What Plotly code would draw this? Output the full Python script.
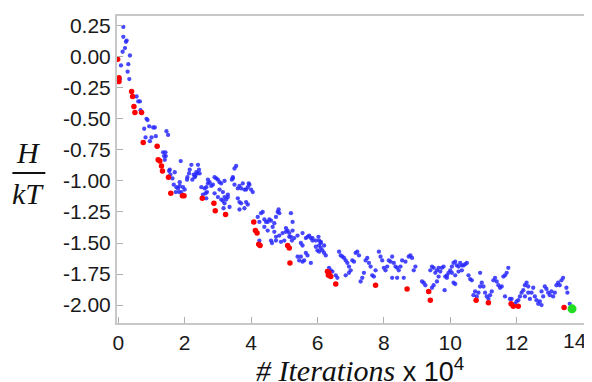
import plotly.graph_objects as go

# ---- data ----
blue_pts = [
    (0.15, 0.24), (0.15, 0.16), (0.25, 0.13), (0.23, 0.12), (0.20, 0.07), (0.13, 0.04),
    (0.35, 0.01), (0.08, -0.07), (0.30, -0.06), (0.28, -0.12), (0.33, -0.18), (0.05, -0.18),
    (0.55, -0.32), (0.60, -0.36), (0.65, -0.36), (0.67, -0.43), (0.85, -0.50), (0.88, -0.51),
    (0.78, -0.58), (0.93, -0.56), (1.05, -0.57), (1.10, -0.57), (0.82, -0.65), (1.00, -0.65),
    (1.13, -0.64), (0.95, -0.68), (1.45, -0.60), (1.50, -0.63), (1.35, -0.77), (1.42, -0.77),
    (1.38, -0.80), (1.43, -0.80), (1.40, -0.83), (1.53, -0.92), (1.55, -0.91),
    (1.70, -0.93), (1.57, -0.95), (1.63, -0.98), (1.67, -1.03), (1.75, -1.05), (1.80, -1.06),
    (1.85, -1.04), (1.73, -1.09), (1.83, -1.09), (1.90, -1.09), (1.95, -1.05), (2.00, -1.07),
    (1.85, -1.01), (1.88, -0.84), (2.08, -0.97), (2.07, -0.99), (2.15, -0.91), (2.20, -0.87),
    (2.13, -0.94), (2.27, -0.95), (2.32, -0.96), (2.35, -0.93), (2.38, -0.94), (2.43, -0.91),
    (2.45, -0.94), (2.23, -0.99), (2.40, -0.87), (2.30, -0.97),
    (2.50, -1.05), (2.60, -1.06), (2.65, -1.05), (2.55, -1.11), (2.63, -1.10), (2.67, -1.09),
    (2.65, -1.14), (2.70, -1.02), (2.75, -1.01), (2.80, -1.04), (2.85, -1.03), (2.90, -0.97),
    (2.95, -0.98), (3.00, -0.99), (3.05, -1.01), (3.10, -1.02), (2.90, -1.10), (3.00, -1.13),
    (3.10, -1.15), (3.15, -1.16), (3.20, -1.18), (3.25, -1.15), (3.30, -1.11), (3.35, -1.21),
    (3.17, -1.22), (3.05, -1.07), (3.15, -1.09), (3.20, -1.00), (2.70, -0.99),
    (3.45, -0.98), (3.50, -0.90), (3.55, -0.88), (3.45, -0.97), (3.42, -0.99), (3.50, -1.03),
    (3.60, -1.06), (3.65, -1.04), (3.70, -1.06), (3.75, -1.02), (3.80, -1.07), (3.85, -1.07),
    (3.90, -1.05), (3.95, -1.03), (4.00, -1.07), (4.05, -1.09), (3.60, -1.14), (3.65, -1.17),
    (3.70, -1.18), (3.85, -1.17), (3.90, -1.19), (3.80, -1.22), (3.65, -1.23), (3.93, -1.02),
    (3.20, -1.13), (3.30, -1.13),
    (4.20, -1.29), (4.25, -1.33), (4.30, -1.26), (4.35, -1.25), (4.40, -1.31), (4.45, -1.33),
    (4.50, -1.33), (4.55, -1.31), (4.60, -1.32), (4.70, -1.34), (4.80, -1.25), (4.85, -1.26),
    (4.75, -1.29), (4.83, -1.23), (4.40, -1.37), (4.50, -1.40), (4.65, -1.37), (4.70, -1.41),
    (4.63, -1.50), (4.75, -1.48), (4.85, -1.44), (4.95, -1.42), (5.05, -1.41), (5.15, -1.45),
    (5.25, -1.33), (5.25, -1.40), (4.60, -1.48), (4.75, -1.45), (4.90, -1.49), (5.00, -1.48),
    (4.25, -1.48), (5.30, -1.46), (5.40, -1.44), (5.55, -1.42), (5.65, -1.46), (5.75, -1.44),
    (5.85, -1.46), (5.95, -1.48), (6.05, -1.48), (6.10, -1.50), (6.05, -1.52), (5.20, -1.26),
    (5.10, -1.40), (5.15, -1.42), (5.20, -1.45), (5.23, -1.48), (5.05, -1.38),
    (5.40, -1.61), (5.45, -1.64), (5.50, -1.61), (5.55, -1.65), (5.60, -1.64), (5.50, -1.50),
    (5.55, -1.52), (5.65, -1.58), (5.70, -1.60), (5.80, -1.66), (5.70, -1.45), (5.80, -1.46),
    (5.85, -1.48), (5.95, -1.53), (6.00, -1.56), (6.05, -1.57), (6.10, -1.54), (6.15, -1.56),
    (6.20, -1.58), (6.25, -1.60), (6.03, -1.45), (6.10, -1.49), (6.20, -1.52),
    (6.35, -1.70), (6.40, -1.72), (6.45, -1.73), (6.55, -1.76), (6.60, -1.78), (6.65, -1.57),
    (6.70, -1.60), (6.75, -1.61), (6.80, -1.62), (6.85, -1.64), (6.90, -1.66), (6.95, -1.69),
    (7.00, -1.72), (6.85, -1.76), (6.95, -1.74), (7.05, -1.64), (7.10, -1.65), (7.15, -1.58),
    (7.20, -1.57), (7.25, -1.60), (7.30, -1.81), (7.35, -1.78), (7.40, -1.74), (7.45, -1.64),
    (7.50, -1.62), (7.55, -1.66), (7.60, -1.69), (7.65, -1.76), (7.70, -1.77), (7.75, -1.72),
    (7.85, -1.57), (7.90, -1.61), (7.95, -1.64), (8.00, -1.70), (8.05, -1.72), (8.10, -1.69),
    (8.15, -1.64), (8.20, -1.65), (8.25, -1.61), (8.30, -1.66), (8.35, -1.69), (8.40, -1.70),
    (8.45, -1.72), (8.50, -1.69), (8.25, -1.78), (8.40, -1.78), (8.60, -1.78), (8.55, -1.64),
    (8.65, -1.65), (8.75, -1.61), (8.80, -1.60), (8.85, -1.62), (8.90, -1.72), (8.95, -1.69),
    (9.15, -1.81), (9.20, -1.82), (9.25, -1.84),
    (9.40, -1.72), (9.45, -1.69), (9.50, -1.70), (9.55, -1.74), (9.60, -1.72), (9.65, -1.70),
    (9.70, -1.73), (9.75, -1.70), (9.80, -1.69), (9.85, -1.77), (9.90, -1.78), (9.45, -1.86),
    (9.50, -1.84), (9.60, -1.81), (9.65, -1.77), (9.83, -1.88),
    (9.90, -1.76), (9.95, -1.74), (10.00, -1.72), (10.05, -1.69), (10.10, -1.66), (10.15, -1.65),
    (10.20, -1.68), (10.25, -1.69), (10.30, -1.66), (10.35, -1.68), (10.40, -1.68), (10.45, -1.67),
    (10.50, -1.66), (10.05, -1.74), (10.15, -1.76), (10.25, -1.73), (10.35, -1.72), (10.10, -1.82),
    (10.15, -1.83), (10.55, -1.76), (10.60, -1.79), (10.65, -1.80),
    (10.70, -1.92), (10.75, -1.89), (10.80, -1.93), (10.85, -1.90), (10.90, -1.85), (10.95, -1.82),
    (11.00, -1.85), (10.90, -1.74), (11.05, -1.90), (11.10, -1.93), (11.15, -1.95), (11.20, -1.92),
    (11.25, -1.89), (11.30, -1.80), (11.35, -1.78), (11.40, -1.81), (11.45, -1.84), (11.50, -1.86),
    (11.55, -1.85), (11.60, -1.77), (11.65, -1.76), (11.70, -1.74), (11.75, -1.70), (11.65, -1.93),
    (11.80, -1.95), (11.85, -1.95), (11.95, -1.99), (12.00, -1.97), (12.05, -1.96), (12.10, -1.93),
    (12.15, -1.90), (12.20, -1.88), (12.25, -1.84), (12.30, -1.82), (12.35, -1.85),
    (12.25, -1.93), (12.35, -1.90), (12.40, -1.95), (12.45, -1.90), (12.50, -1.86),
    (12.55, -1.93), (12.60, -1.96), (12.65, -1.99), (12.70, -1.97), (12.75, -2.00),
    (12.75, -1.89), (12.85, -1.85), (12.90, -1.87), (12.80, -1.93),
    (12.95, -1.90), (13.00, -1.92), (13.05, -1.89), (13.10, -1.93), (13.15, -1.90),
    (13.20, -1.84), (13.25, -1.82), (13.30, -1.84), (13.35, -1.80), (13.40, -1.78),
    (13.50, -1.86), (13.53, -1.90), (13.60, -1.99),
]

red_x = [-0.02, 0.02, 0.02, 0.40, 0.43, 0.47, 0.50, 0.70, 0.75, 1.17, 1.20, 1.25, 1.30, 1.33,
         1.51, 1.58, 1.93, 1.98, 2.53, 2.88, 2.92, 3.23, 4.08, 4.13, 4.18, 4.23, 4.27, 5.10,
         5.15, 5.17, 6.30, 6.35, 6.40, 6.33, 6.55, 7.75, 8.70, 9.35, 9.40, 10.78, 11.15, 11.83,
         11.90, 12.05, 13.43]
red_y = [-0.02, -0.17, -0.20, -0.28, -0.32, -0.40, -0.45, -0.45, -0.69, -0.72, -0.83, -0.84,
         -0.88, -0.92, -0.97, -1.10, -1.12, -1.12, -1.14, -1.18, -1.24, -1.27, -1.33, -1.40,
         -1.42, -1.51, -1.52, -1.52, -1.54, -1.66, -1.73, -1.74, -1.77, -1.76, -1.83, -1.84,
         -1.87, -1.89, -1.96, -1.96, -1.98, -1.99, -2.01, -2.01, -2.02]

green_x = [13.67]
green_y = [-2.03]

x_ticks = [0, 2, 4, 6, 8, 10, 12, 14]
x_tick_labels = ["0", "2", "4", "6", "8", "10", "12", "14"]
y_ticks = [0.25, 0.0, -0.25, -0.5, -0.75, -1.0, -1.25, -1.5, -1.75, -2.0]
y_tick_labels = ["0.25", "0.00", "-0.25", "-0.50", "-0.75", "-1.00", "-1.25", "-1.50", "-1.75", "-2.00"]

blue_x = [p[0] for p in blue_pts]
blue_y = [p[1] for p in blue_pts]

fig = go.Figure()
fig.add_trace(go.Scatter(x=blue_x, y=blue_y, mode="markers",
                         marker=dict(size=4.3, color="rgba(40,40,255,0.85)", line=dict(width=0))))
fig.add_trace(go.Scatter(x=red_x, y=red_y, mode="markers",
                         marker=dict(size=5.5, color="#ff0000", line=dict(width=0))))
fig.add_trace(go.Scatter(x=green_x, y=green_y, mode="markers",
                         marker=dict(size=9, color="#22dd22", line=dict(width=0))))

tick_color = "#1a1a1a"
tickfont = dict(family="Liberation Sans, Arial, sans-serif", size=21, color=tick_color)
axis_common = dict(showline=True, linecolor="#c8c8c8", linewidth=2, mirror=True,
                   ticks="inside", ticklen=6, tickwidth=1, tickcolor="#b0b0b0",
                   showgrid=False, zeroline=False, tickfont=tickfont)

# the last x label sits at the right edge of the page; it is drawn as an
# annotation pulled inside the window, the others come from the axis
x_axis_text = x_tick_labels[:-1] + [""]

# page body has an 8px default margin, so the figure is sized to fit inside the window
fig.update_layout(
    width=584, height=374,
    margin=dict(l=109, r=6, t=8, b=59),
    plot_bgcolor="white", paper_bgcolor="white",
    showlegend=False,
    xaxis=dict(range=[-0.04, 14.03], tickvals=x_ticks, ticktext=x_axis_text, **axis_common),
    yaxis=dict(range=[-2.144, 0.328], tickvals=y_ticks, ticktext=y_tick_labels, **axis_common),
)

fig.add_annotation(x=1.0107, y=-0.0586, xref="paper", yref="paper", text=x_tick_labels[-1],
                   xanchor="right", yanchor="middle", showarrow=False, font=tickfont)

serif = "Liberation Serif, Times New Roman, serif"
fig.add_annotation(x=-0.19, y=0.554, xref="paper", yref="paper", text="<i>H</i>",
                   xanchor="center", yanchor="middle",
                   showarrow=False, font=dict(family=serif, size=30, color="#111"))
fig.add_annotation(x=-0.19, y=0.423, xref="paper", yref="paper", text="<i>kT</i>",
                   xanchor="center", yanchor="middle",
                   showarrow=False, font=dict(family=serif, size=30, color="#111"))
fig.add_shape(type="line", xref="paper", yref="paper", x0=-0.224, x1=-0.1535,
              y0=0.4886, y1=0.4886, line=dict(color="#111", width=2))
fig.add_annotation(
    x=0.52, y=-0.152, xref="paper", yref="paper", showarrow=False,
    xanchor="center", yanchor="middle",
    text=("<span style=\"font-family:'Liberation Serif', serif; font-size:30px\"><i># Iterations</i></span>"
          " x 10<sup>4</sup>"),
    font=dict(family="Liberation Sans, Arial, sans-serif", size=27, color="#111"),
)

fig.write_html("out.html")
